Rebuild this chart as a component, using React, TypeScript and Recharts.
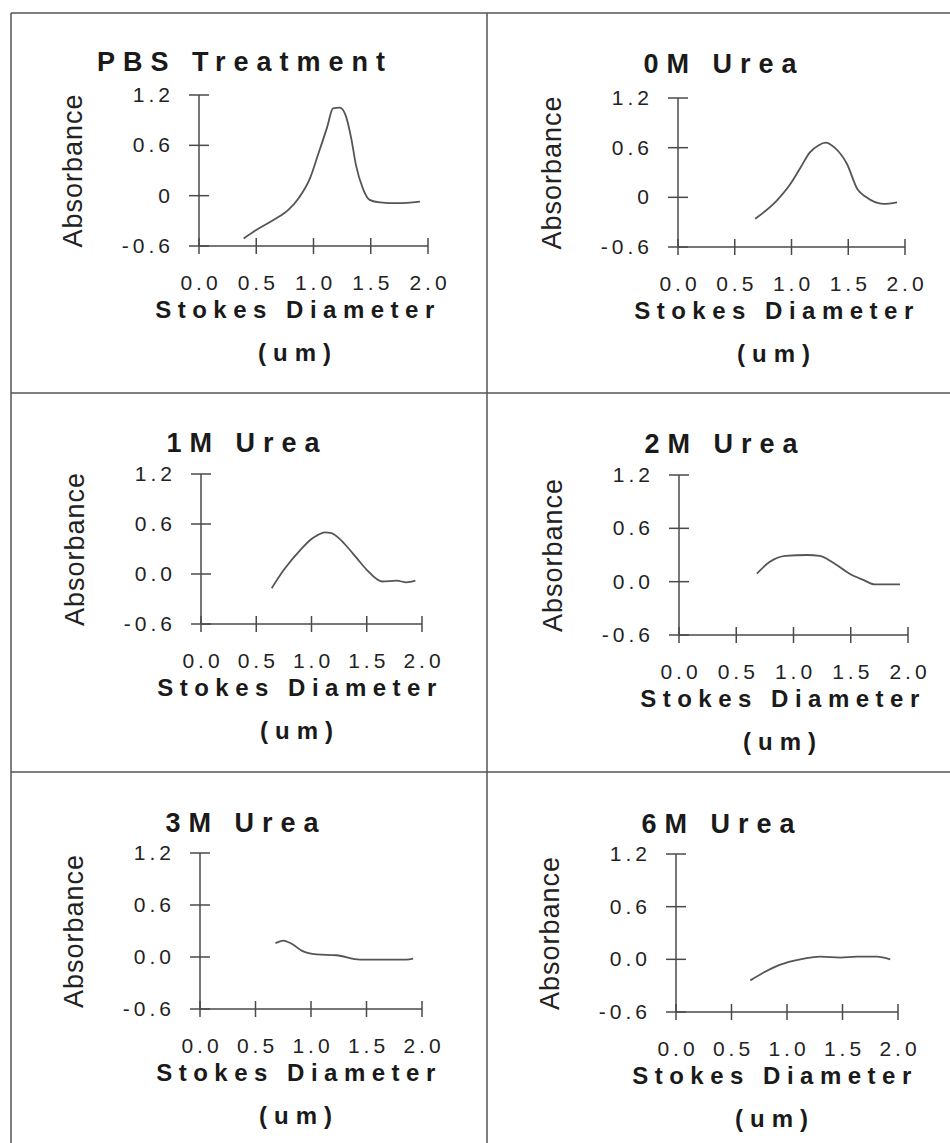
import React from 'react';
import { LineChart, Line, XAxis, YAxis } from 'recharts';

// sedimentation profiles, absorbance vs Stokes diameter (um)
const pbsX = [0.39, 0.5, 0.65, 0.78, 0.87, 0.97, 1.04, 1.12, 1.17, 1.23, 1.28, 1.33, 1.37, 1.43, 1.49, 1.58, 1.73, 1.93];
const pbsY = [-0.51, -0.41, -0.29, -0.17, -0.03, 0.21, 0.49, 0.82, 1.04, 1.05, 0.96, 0.68, 0.37, 0.09, -0.05, -0.08, -0.09, -0.07];

const urea0X = [0.68, 0.87, 0.99, 1.08, 1.16, 1.24, 1.3, 1.38, 1.49, 1.58, 1.66, 1.81, 1.93];
const urea0Y = [-0.26, -0.04, 0.16, 0.36, 0.54, 0.63, 0.66, 0.6, 0.4, 0.1, 0.0, -0.08, -0.06];

const urea1X = [0.64, 0.75, 0.9, 1.0, 1.06, 1.12, 1.18, 1.24, 1.3, 1.41, 1.5, 1.64, 1.77, 1.86, 1.94];
const urea1Y = [-0.17, 0.05, 0.29, 0.42, 0.47, 0.5, 0.49, 0.44, 0.36, 0.19, 0.05, -0.09, -0.08, -0.1, -0.08];

const urea2X = [0.68, 0.79, 0.93, 1.12, 1.23, 1.35, 1.49, 1.61, 1.71, 1.93];
const urea2Y = [0.09, 0.22, 0.29, 0.3, 0.29, 0.21, 0.09, 0.02, -0.03, -0.03];

const urea3X = [0.68, 0.75, 0.83, 0.92, 1.05, 1.23, 1.44, 1.59, 1.86, 1.92];
const urea3Y = [0.16, 0.19, 0.15, 0.07, 0.03, 0.02, -0.03, -0.03, -0.03, -0.02];

const urea6X = [0.67, 0.79, 0.94, 1.12, 1.3, 1.48, 1.63, 1.81, 1.93];
const urea6Y = [-0.24, -0.15, -0.06, 0.0, 0.03, 0.02, 0.03, 0.03, 0.0];

const xTicks = [0, 0.5, 1, 1.5, 2];
const xTickLabels = ['0.0', '0.5', '1.0', '1.5', '2.0'];
const yTicks = [-0.6, 0, 0.6, 1.2];
const yTickLabelsShort = ['-0.6', '0', '0.6', '1.2'];
const yTickLabelsLong = ['-0.6', '0.0', '0.6', '1.2'];

const FONT = '"Liberation Sans", Arial, Helvetica, sans-serif';
const INK = '#4a4a4a';

const toRows = (xs: number[], ys: number[]) => xs.map((x, i) => ({ x, y: ys[i] }));

// plot box of each panel in page pixels
const panels = [
  { title: 'PBS Treatment', xs: pbsX, ys: pbsY, yLabels: yTickLabelsShort, axisX: 199, top: 95, bottom: 246, right: 428, titleDy: -24, shift: 0 },
  { title: '0M Urea', xs: urea0X, ys: urea0Y, yLabels: yTickLabelsShort, axisX: 678, top: 98, bottom: 247, right: 905, titleDy: -25, shift: 0 },
  { title: '1M Urea', xs: urea1X, ys: urea1Y, yLabels: yTickLabelsLong, axisX: 201, top: 474, bottom: 624, right: 422, titleDy: -22, shift: 0 },
  { title: '2M Urea', xs: urea2X, ys: urea2Y, yLabels: yTickLabelsLong, axisX: 679, top: 475, bottom: 635, right: 908, titleDy: -22, shift: 5 },
  { title: '3M Urea', xs: urea3X, ys: urea3Y, yLabels: yTickLabelsLong, axisX: 200, top: 853, bottom: 1009, right: 422, titleDy: -21, shift: 0 },
  { title: '6M Urea', xs: urea6X, ys: urea6Y, yLabels: yTickLabelsLong, axisX: 676, top: 854, bottom: 1012, right: 898, titleDy: -21, shift: 0 },
];

const CHART_W = 455;
const CHART_H = 410;
const PAD_LEFT = 190;
const PAD_TOP = 95;
const Y_AXIS_W = 60;
const X_AXIS_H = 60;

const XTick = ({ x, y, payload, index }: any) => (
  <g>
    <line x1={x} x2={x} y1={y - 8} y2={y + 8} stroke={INK} strokeWidth={1.5} />
    <text x={x + 2} y={y + 44} textAnchor="middle" fontFamily={FONT} fontSize={21} letterSpacing={4} fill="#222">
      {xTickLabels[index] ?? payload.value}
    </text>
  </g>
);

const makeYTick = (labels: string[]) => ({ x, y, index }: any) => (
  <g>
    <line x1={x - 10} x2={x + 10} y1={y} y2={y} stroke={INK} strokeWidth={1.5} />
    <text x={x - 25} y={y + 7} textAnchor="end" fontFamily={FONT} fontSize={21} letterSpacing={4} fill="#222">
      {labels[index]}
    </text>
  </g>
);

const Panel = ({ p }: { p: (typeof panels)[number] }) => {
  const plotW = p.right - p.axisX;
  const plotH = p.bottom - p.top;
  const margin = {
    left: PAD_LEFT - Y_AXIS_W,
    top: PAD_TOP,
    right: CHART_W - PAD_LEFT - plotW,
    bottom: CHART_H - PAD_TOP - plotH - X_AXIS_H,
  };
  const cx = PAD_LEFT + 99 + p.shift;
  return (
    <div style={{ position: 'absolute', left: p.axisX - PAD_LEFT, top: p.top - PAD_TOP }}>
      <LineChart width={CHART_W} height={CHART_H} data={toRows(p.xs, p.ys)} margin={margin}>
        <XAxis
          dataKey="x"
          type="number"
          domain={[0, 2]}
          ticks={xTicks}
          interval={0}
          height={X_AXIS_H}
          tickSize={0}
          tickMargin={0}
          tickLine={false}
          axisLine={{ stroke: INK, strokeWidth: 1.5 }}
          tick={<XTick />}
        />
        <YAxis
          type="number"
          domain={[-0.6, 1.2]}
          ticks={yTicks}
          interval={0}
          width={Y_AXIS_W}
          tickSize={0}
          tickMargin={0}
          tickLine={false}
          axisLine={{ stroke: INK, strokeWidth: 1.5 }}
          tick={makeYTick(p.yLabels)}
        />
        <Line type="monotone" dataKey="y" stroke="#555" strokeWidth={1.8} dot={false} isAnimationActive={false} />
        <text x={PAD_LEFT + 46} y={PAD_TOP + p.titleDy} textAnchor="middle" fontFamily={FONT} fontWeight="bold" fontSize={27} letterSpacing={8} fill="#1a1a1a">
          {p.title}
        </text>
        <text
          x={PAD_LEFT - 126}
          y={PAD_TOP + plotH / 2}
          transform={`rotate(-90 ${PAD_LEFT - 126} ${PAD_TOP + plotH / 2})`}
          textAnchor="middle"
          dominantBaseline="central"
          fontFamily={FONT}
          fontSize={27}
          letterSpacing={1}
          fill="#222"
        >
          Absorbance
        </text>
        <text x={cx} y={PAD_TOP + plotH + 72} textAnchor="middle" fontFamily={FONT} fontWeight="bold" fontSize={24} letterSpacing={6.5} fill="#1a1a1a">
          Stokes Diameter
        </text>
        <text x={cx} y={PAD_TOP + plotH + 115} textAnchor="middle" fontFamily={FONT} fontWeight="bold" fontSize={24} letterSpacing={7} fill="#1a1a1a">
          (um)
        </text>
      </LineChart>
    </div>
  );
};

export default function App() {
  return (
    <div style={{ position: 'absolute', left: 0, top: 0, width: 950, height: 1143, overflow: 'hidden', background: '#fff' }}>
      <svg width={950} height={1143} style={{ position: 'absolute', left: 0, top: 0 }}>
        <g stroke="#555" strokeWidth={1.5}>
          <line x1={11} y1={13} x2={950} y2={13} />
          <line x1={11} y1={13} x2={11} y2={1143} />
          <line x1={487} y1={13} x2={487} y2={1143} />
          <line x1={11} y1={393} x2={950} y2={393} />
          <line x1={11} y1={772} x2={950} y2={772} />
        </g>
      </svg>
      {panels.map((p) => (
        <Panel key={p.title} p={p} />
      ))}
    </div>
  );
}
